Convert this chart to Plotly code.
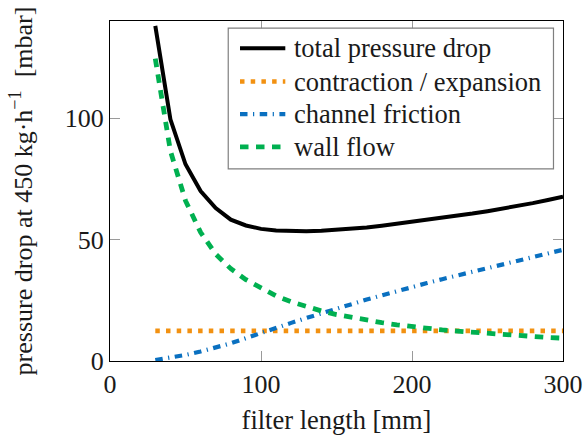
import plotly.graph_objects as go

# filter length [mm]
filter_length = [30, 40, 50, 60, 70, 80, 90, 100, 110, 120, 130, 140, 150,
                 160, 170, 180, 190, 200, 210, 220, 230, 240, 250, 260, 270,
                 280, 290, 300]

# pressure drop contributions at 450 kg/h [mbar]
total_drop = [138.0, 99.5, 81.0, 70.0, 63.0, 58.2, 55.8, 54.4, 53.7, 53.4,
              53.4, 53.6, 54.0, 54.4, 55.0, 55.7, 56.5, 57.2, 58.0, 58.9,
              59.8, 60.7, 61.7, 62.7, 63.8, 65.0, 66.3, 67.7]
contraction_expansion = [12.4] * 28
channel_friction = [0.4, 1.3, 2.5, 3.9, 5.5, 7.3, 9.4, 11.6, 13.6, 15.7,
                    17.7, 19.7, 21.7, 23.5, 25.3, 27.0, 28.8, 30.5, 32.1,
                    33.7, 35.2, 36.8, 38.3, 39.8, 41.3, 42.8, 44.3, 45.8]
wall_flow = [124.5, 86.5, 66.0, 53.0, 44.0, 38.0, 33.5, 30.0, 26.8, 24.4,
             22.3, 20.6, 19.1, 17.9, 16.8, 15.8, 14.9, 14.1, 13.4, 12.8,
             12.3, 11.8, 11.2, 10.7, 10.3, 10.0, 9.7, 9.4]

series_names = ["total pressure drop", "contraction / expansion",
                "channel friction", "wall flow"]
series_values = [total_drop, contraction_expansion, channel_friction, wall_flow]

line_styles = [
    dict(color="black", width=4.0, dash="solid"),
    dict(color="#F29111", width=4.6, dash="4.5px,6.2px"),
    dict(color="#0A70C0", width=4.2, dash="7.5px,5.5px,1.2px,5.5px"),
    dict(color="#00B050", width=4.8, dash="8.5px,7.5px"),
]

font_family = "Liberation Serif"
text_color = "#1a1a1a"

fig = go.Figure()
for name, values, style in zip(series_names, series_values, line_styles):
    fig.add_trace(go.Scatter(
        x=filter_length, y=values, name=name, mode="lines",
        line=style, showlegend=False,
    ))

# legend box drawn in paper coordinates (top-right inside the axes)
box_x0, box_x1 = 0.261, 0.979
box_y0, box_y1 = 0.565, 0.979
row_y = [0.920, 0.822, 0.726, 0.630]
sample_x0, sample_x1 = 0.287, 0.387
text_x = 0.402

shapes = [dict(type="rect", xref="paper", yref="paper",
               x0=box_x0, x1=box_x1, y0=box_y0, y1=box_y1,
               line=dict(color="#7f7f7f", width=1.2), fillcolor="white",
               layer="above")]
annotations = []
for name, style, yy in zip(series_names, line_styles, row_y):
    shapes.append(dict(type="line", xref="paper", yref="paper",
                       x0=sample_x0, x1=sample_x1, y0=yy, y1=yy,
                       line=style, layer="above"))
    annotations.append(dict(xref="paper", yref="paper", x=text_x, y=yy,
                            xanchor="left", yanchor="middle", text=name,
                            showarrow=False,
                            font=dict(family=font_family, size=26.5,
                                      color=text_color)))

axis_common = dict(
    showline=True, linecolor="black", linewidth=1.2, mirror="ticks",
    ticks="inside", ticklen=10, tickwidth=1.2, tickcolor="#9a9a9a",
    showgrid=False, zeroline=False, automargin=False,
    tickfont=dict(family=font_family, size=26, color=text_color),
)

fig.update_layout(
    width=583, height=435,
    margin=dict(l=110, r=20, t=21, b=74),
    paper_bgcolor="white", plot_bgcolor="white",
    font=dict(family=font_family, size=26, color=text_color),
    showlegend=False,
    shapes=shapes,
    annotations=annotations,
    xaxis=dict(
        range=[0, 300], tickvals=[0, 100, 200, 300],
        title=dict(text="filter length [mm]", standoff=13,
                   font=dict(family=font_family, size=26.5, color=text_color)),
        **axis_common,
    ),
    yaxis=dict(
        range=[0, 140], tickvals=[0, 50, 100],
        title=dict(text="pressure drop at 450 kg·h<sup>−1</sup>  [mbar]", standoff=24,
                   font=dict(family=font_family, size=26, color=text_color)),
        **axis_common,
    ),
)

fig.write_html("out.html")
